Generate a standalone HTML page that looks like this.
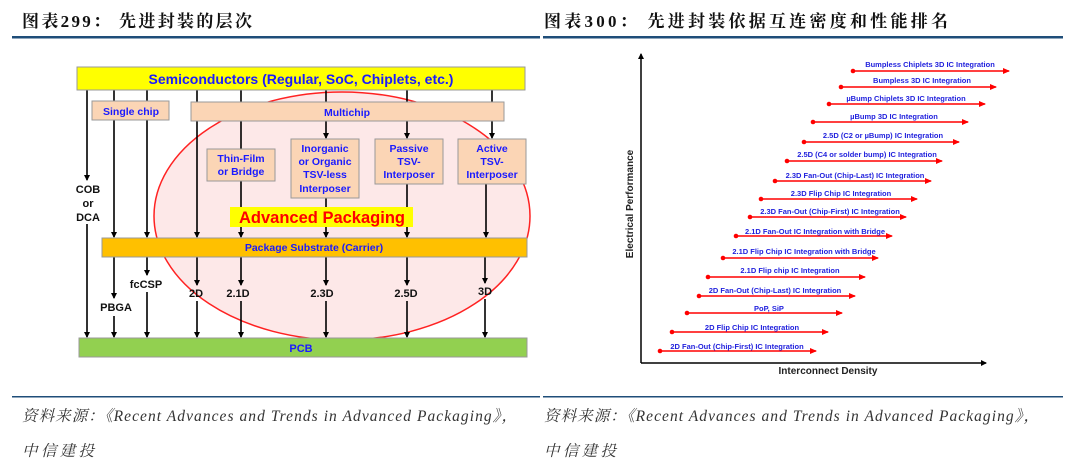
<!DOCTYPE html>
<html><head><meta charset="utf-8"><style>
body{margin:0;background:#fff}
svg{display:block}
.h{font-family:"Liberation Serif","Noto Serif CJK SC",serif;font-size:17px;font-weight:bold;fill:#111}
.f{font-family:"Liberation Serif","Noto Serif CJK SC",serif;font-size:15.5px;font-style:italic;fill:#333}
.b{font-family:"Liberation Sans",sans-serif;font-weight:bold;fill:#1a1aff}
.k{font-family:"Liberation Sans",sans-serif;font-weight:bold;fill:#111;font-size:11px}
.r{font-family:"Liberation Sans",sans-serif;font-weight:bold;fill:#2222dd;font-size:7.5px}
</style></head><body>
<svg width="1080" height="471" viewBox="0 0 1080 471" xmlns="http://www.w3.org/2000/svg">
<defs>
<marker id="a" markerWidth="6" markerHeight="6" refX="5" refY="3" orient="auto" markerUnits="userSpaceOnUse"><path d="M0,0 L6,3 L0,6 z" fill="#000"/></marker>
<marker id="ra" markerWidth="7" markerHeight="6" refX="6" refY="3" orient="auto" markerUnits="userSpaceOnUse"><path d="M0,0 L7,3 L0,6 z" fill="#f00"/></marker>
</defs>
<text x="22" y="27" class="h" textLength="230" lengthAdjust="spacing">图表299：  先进封装的层次</text>
<text x="544" y="27" class="h" textLength="404" lengthAdjust="spacing">图表300：  先进封装依据互连密度和性能排名</text>
<rect x="12" y="36" width="528" height="2.5" fill="#1f4e79"/>
<rect x="543" y="36" width="520" height="2.5" fill="#1f4e79"/>
<rect x="12" y="396" width="528" height="1.5" fill="#1f4e79"/>
<rect x="543" y="396" width="520" height="1.5" fill="#1f4e79"/>
<text x="22" y="421" class="f" textLength="495" lengthAdjust="spacing">资料来源：《Recent Advances and Trends in Advanced Packaging》，</text>
<text x="22" y="456" class="f" textLength="72" lengthAdjust="spacing">中信建投</text>
<text x="544" y="421" class="f" textLength="495" lengthAdjust="spacing">资料来源：《Recent Advances and Trends in Advanced Packaging》，</text>
<text x="544" y="456" class="f" textLength="72" lengthAdjust="spacing">中信建投</text>

<!-- left diagram -->
<ellipse cx="342" cy="216" rx="188" ry="124" fill="#fde8e8" stroke="#f22" stroke-width="1.5"/>
<g stroke="#000" stroke-width="1.6" fill="none" marker-end="url(#a)">
<path d="M87 90V180"/><path d="M87 224V337"/>
<path d="M114 120V237"/><path d="M114 257V298"/><path d="M114 316V337"/>
<path d="M147 120V237"/><path d="M147 257V275"/><path d="M147 292V337"/>
<path d="M197 121V237"/><path d="M197 257V285"/><path d="M197 301V337"/>
<path d="M241 181V237"/><path d="M241 257V285"/><path d="M241 301V337"/>
<path d="M326 121V138"/><path d="M326 198V237"/><path d="M326 257V285"/><path d="M326 301V337"/>
<path d="M407 121V138"/><path d="M407 184V237"/><path d="M407 257V285"/><path d="M407 301V337"/>
<path d="M492 90V138"/><path d="M486 184V237"/><path d="M485 257V283"/><path d="M485 299V337"/>
</g>
<g stroke="#000" stroke-width="1.6"><path d="M114 90V101M147 90V101M197 90V102M241 90V102M326 90V102M407 90V102M241 121V149"/></g>
<rect x="77" y="67" width="448" height="23" fill="#ffff00" stroke="#999"/>
<text x="301" y="84" class="b" font-size="14" text-anchor="middle">Semiconductors (Regular, SoC, Chiplets, etc.)</text>
<g fill="#fbd5b5" stroke="#999">
<rect x="92" y="101" width="77" height="19"/>
<rect x="191" y="102" width="313" height="19"/>
<rect x="207" y="149" width="68" height="32"/>
<rect x="291" y="139" width="68" height="59"/>
<rect x="375" y="139" width="68" height="45"/>
<rect x="458" y="139" width="68" height="45"/>
</g>
<g class="b" font-size="10.5" text-anchor="middle">
<text x="131" y="115">Single chip</text>
<text x="347" y="116">Multichip</text>
<text x="241" y="162">Thin-Film</text><text x="241" y="175">or Bridge</text>
<text x="325" y="152">Inorganic</text><text x="325" y="165">or Organic</text><text x="325" y="178">TSV-less</text><text x="325" y="192">Interposer</text>
<text x="409" y="152">Passive</text><text x="409" y="165">TSV-</text><text x="409" y="178">Interposer</text>
<text x="492" y="152">Active</text><text x="492" y="165">TSV-</text><text x="492" y="178">Interposer</text>
</g>
<rect x="230" y="207" width="183" height="20" fill="#ffff00"/>
<text x="322" y="223" font-family="Liberation Sans,sans-serif" font-weight="bold" font-size="16.5" fill="#f00" text-anchor="middle">Advanced Packaging</text>
<rect x="102" y="238" width="425" height="19" fill="#ffc000" stroke="#999"/>
<text x="314" y="251" class="b" font-size="10.5" text-anchor="middle">Package Substrate (Carrier)</text>
<rect x="79" y="338" width="448" height="19" fill="#92d050" stroke="#999"/>
<text x="301" y="352" class="b" font-size="11" text-anchor="middle">PCB</text>
<g class="k" text-anchor="middle">
<text x="88" y="193">COB</text><text x="88" y="207">or</text><text x="88" y="221">DCA</text>
<text x="116" y="311">PBGA</text><text x="146" y="288">fcCSP</text>
<text x="196" y="297">2D</text><text x="238" y="297">2.1D</text><text x="322" y="297">2.3D</text><text x="406" y="297">2.5D</text><text x="485" y="295">3D</text>
</g>

<!-- right diagram -->
<g stroke="#000" stroke-width="1.5" fill="none">
<path d="M641 363V54" marker-end="url(#a)"/><path d="M641 363H986" marker-end="url(#a)"/>
</g>
<text x="828" y="374" text-anchor="middle" font-family="Liberation Sans,sans-serif" font-weight="bold" font-size="10" fill="#222">Interconnect Density</text>
<text transform="translate(633 204) rotate(-90)" text-anchor="middle" font-family="Liberation Sans,sans-serif" font-weight="bold" font-size="10" fill="#222">Electrical Performance</text>
<g stroke="#f00" stroke-width="1.5" fill="#f00">
<g marker-end="url(#ra)">
<path d="M853 71H1009"/><path d="M841 87H996"/><path d="M829 104H985"/><path d="M813 122H968"/>
<path d="M804 142H959"/><path d="M787 161H942"/><path d="M775 181H931"/><path d="M761 199H917"/>
<path d="M750 217H906"/><path d="M736 236H892"/><path d="M723 258H878"/><path d="M708 277H865"/>
<path d="M699 296H855"/><path d="M687 313H842"/><path d="M672 332H828"/><path d="M660 351H816"/>
</g>
<g stroke="none">
<circle cx="853" cy="71" r="2.3"/><circle cx="841" cy="87" r="2.3"/><circle cx="829" cy="104" r="2.3"/><circle cx="813" cy="122" r="2.3"/>
<circle cx="804" cy="142" r="2.3"/><circle cx="787" cy="161" r="2.3"/><circle cx="775" cy="181" r="2.3"/><circle cx="761" cy="199" r="2.3"/>
<circle cx="750" cy="217" r="2.3"/><circle cx="736" cy="236" r="2.3"/><circle cx="723" cy="258" r="2.3"/><circle cx="708" cy="277" r="2.3"/>
<circle cx="699" cy="296" r="2.3"/><circle cx="687" cy="313" r="2.3"/><circle cx="672" cy="332" r="2.3"/><circle cx="660" cy="351" r="2.3"/>
</g></g>
<g class="r" text-anchor="middle">
<text x="930" y="67">Bumpless Chiplets 3D IC Integration</text>
<text x="922" y="83">Bumpless 3D IC Integration</text>
<text x="906" y="101">µBump Chiplets 3D IC Integration</text>
<text x="894" y="119">µBump 3D IC Integration</text>
<text x="883" y="138">2.5D (C2 or µBump) IC Integration</text>
<text x="867" y="157">2.5D (C4 or solder bump) IC Integration</text>
<text x="855" y="178">2.3D Fan-Out (Chip-Last) IC Integration</text>
<text x="841" y="196">2.3D Flip Chip IC Integration</text>
<text x="830" y="214">2.3D Fan-Out (Chip-First) IC Integration</text>
<text x="815" y="234">2.1D Fan-Out IC Integration with Bridge</text>
<text x="804" y="254">2.1D Flip Chip IC Integration with Bridge</text>
<text x="790" y="273">2.1D Flip chip IC Integration</text>
<text x="775" y="293">2D Fan-Out (Chip-Last) IC Integration</text>
<text x="769" y="311">PoP, SiP</text>
<text x="752" y="330">2D Flip Chip IC Integration</text>
<text x="737" y="349">2D Fan-Out (Chip-First) IC Integration</text>
</g>
</svg>
</body></html>
